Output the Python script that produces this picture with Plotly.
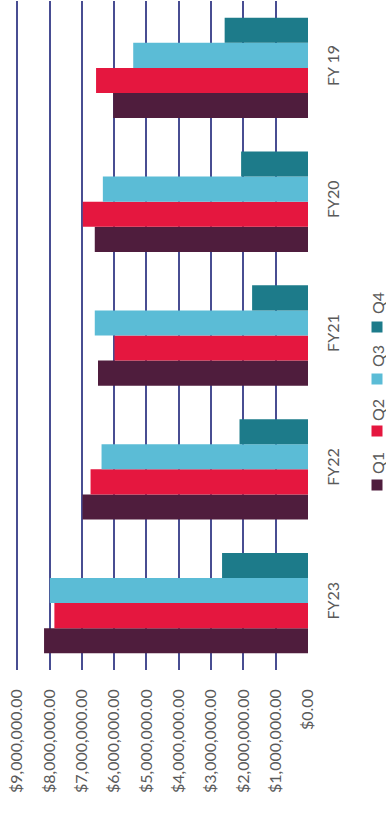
import plotly.graph_objects as go

categories = ["FY23", "FY22", "FY21", "FY20", "FY 19"]
q1 = [8170000, 6980000, 6500000, 6600000, 6030000]
q2 = [7850000, 6730000, 5990000, 6970000, 6560000]
q3 = [7990000, 6390000, 6600000, 6350000, 5410000]
q4 = [2660000, 2120000, 1730000, 2070000, 2580000]
series_names = ["Q1", "Q2", "Q3", "Q4"]
colors = ["#4f1d3d", "#e5173f", "#5bbcd6", "#1d7b8a"]
tick_vals = [i * 1000000 for i in range(10)]
tick_text = ["$0.00"] + ["${:,}.00".format(v) for v in tick_vals[1:]]

W, H = 386, 815
ML, MR, MT, MB = 14, 78, 1, 145
PW, PH = W - ML - MR, H - MT - MB

def px_to_paper(px, py):
    return (px - ML) / PW, (H - MB - py) / PH

FONT = "Lato"
TXT = "#5a5a5a"

fig = go.Figure()
for name, vals, col in zip(series_names, [q1, q2, q3, q4], colors):
    fig.add_trace(go.Bar(
        y=categories, x=vals, name=name, orientation="h",
        marker=dict(color=col, line=dict(width=0)),
        showlegend=False,
    ))

# legend drawn rotated (reads bottom-to-top)
legend_text_y = [463, 410, 356, 303]
legend_mark_y = [485, 431, 379, 327]
shapes = []
annotations = []
for name, col, ty, my in zip(series_names, colors, legend_text_y, legend_mark_y):
    cx, cy = px_to_paper(377, my)
    hw = 5.5 / PW
    hh = 5.5 / PH
    shapes.append(dict(type="rect", xref="paper", yref="paper",
                       x0=cx - hw, x1=cx + hw, y0=cy - hh, y1=cy + hh,
                       fillcolor=col, line=dict(width=0)))
    tx, tyy = px_to_paper(377, ty)
    annotations.append(dict(text=name, xref="paper", yref="paper", x=tx, y=tyy,
                            showarrow=False, textangle=-90,
                            xanchor="center", yanchor="middle",
                            font=dict(family=FONT, size=16, color=TXT)))

fig.update_layout(
    width=W, height=H,
    margin=dict(l=ML, r=MR, t=MT, b=MB, pad=0),
    paper_bgcolor="white", plot_bgcolor="white",
    barmode="group", bargap=0.25, bargroupgap=0,
    shapes=shapes, annotations=annotations,
    xaxis=dict(
        range=[9100000, 0], tickvals=tick_vals, ticktext=tick_text,
        tickangle=-90, showgrid=True, gridcolor="#484d92", gridwidth=1.8,
        zeroline=True, zerolinecolor="white", zerolinewidth=2,
        showline=False, ticks="", ticklabelstandoff=15,
        tickfont=dict(family=FONT, size=16, color=TXT),
    ),
    yaxis=dict(
        side="right", tickangle=-90, showgrid=False, showline=False,
        ticks="", ticklabelstandoff=14,
        tickfont=dict(family=FONT, size=16, color=TXT),
    ),
)

fig.write_html("out.html")
